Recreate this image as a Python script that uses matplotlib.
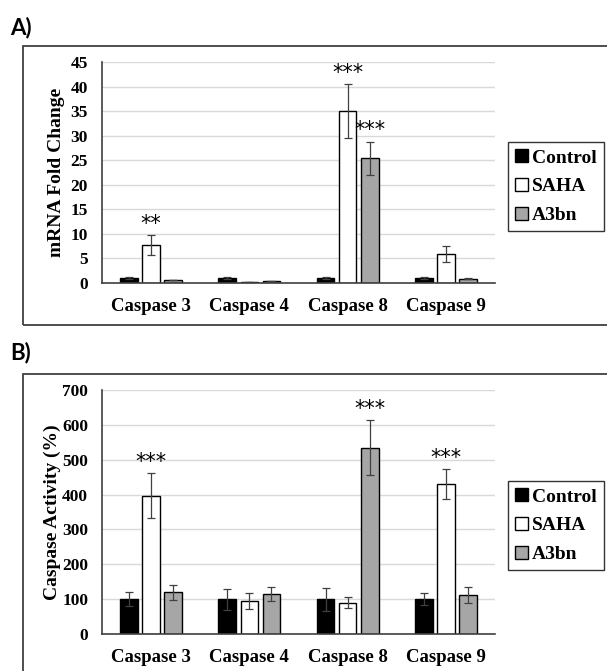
import numpy as np
import matplotlib
matplotlib.use("Agg")
import matplotlib.pyplot as plt
from matplotlib.patches import Rectangle

# ---- data ----
categories = ["Caspase 3", "Caspase 4", "Caspase 8", "Caspase 9"]
groups = ["Control", "SAHA", "A3bn"]

# panel A: mRNA fold change
mrna_control = [1.0, 1.0, 1.0, 1.0]
mrna_control_err = [0.2, 0.2, 0.2, 0.2]
mrna_saha = [7.8, 0.2, 35.0, 5.9]
mrna_saha_err = [2.0, 0.0, 5.5, 1.6]
mrna_a3bn = [0.7, 0.4, 25.4, 0.9]
mrna_a3bn_err = [0.0, 0.0, 3.4, 0.1]
mrna_stars = [["", "**", ""], ["", "", ""], ["", "***", "***"], ["", "", ""]]

# panel B: caspase activity (%)
act_control = [100, 100, 100, 100]
act_control_err = [20, 30, 33, 18]
act_saha = [397, 95, 90, 430]
act_saha_err = [65, 22, 15, 43]
act_a3bn = [120, 116, 535, 112]
act_a3bn_err = [22, 20, 79, 24]
act_stars = [["", "***", ""], ["", "", ""], ["", "", "***"], ["", "***", ""]]

colors = ["#000000", "#ffffff", "#a6a6a6"]
serif = "Liberation Serif"

fig = plt.figure(figsize=(6.07, 6.71), dpi=100)

# panel frames
for y0, h in [(1 - 325 / 671, (325 - 46) / 671), (-0.05, 1 - 374 / 671 + 0.05)]:
    fig.patches.append(Rectangle((23 / 607, y0), 1.0, h, transform=fig.transFigure,
                                 fill=False, edgecolor="#404040", linewidth=1.3))

fig.text(10 / 607, 1 - 28 / 671, "A)", fontsize=16, fontweight="bold", family="Lato",
         va="center", ha="left")
fig.text(10 / 607, 1 - 353 / 671, "B)", fontsize=16, fontweight="bold", family="Lato",
         va="center", ha="left")


def panel(ax, vals, errs, stars, ymax, ystep, ylabel, label_x, leg_top):
    x = np.arange(len(categories))
    w = 0.18
    off = [-0.225, 0.0, 0.225]
    ax.set_axisbelow(True)
    ax.yaxis.grid(True, color="#d9d9d9", linewidth=1.0)
    for i in range(3):
        ax.bar(x + off[i], vals[i], w, yerr=errs[i], color=colors[i], edgecolor="#000000",
               linewidth=1.0, label=groups[i],
               error_kw=dict(ecolor="#404040", elinewidth=0.9, capsize=3, capthick=0.9))
        for j in range(len(categories)):
            if stars[j][i]:
                ax.text(x[j] + off[i], vals[i][j] + errs[i][j] + ymax * 0.005, stars[j][i],
                        ha="center", va="bottom", fontsize=15, family="DejaVu Sans")
    ax.set_xlim(-0.5, len(categories) - 0.5)
    ax.set_ylim(0, ymax)
    ax.set_yticks(np.arange(0, ymax + 1, ystep))
    ax.set_xticks(x)
    ax.set_xticklabels(categories, fontsize=13.5, fontweight="bold", family=serif)
    for t in ax.get_yticklabels():
        t.set_fontsize(12.5)
        t.set_fontweight("bold")
        t.set_family(serif)
    ax.tick_params(axis="both", length=0)
    ax.tick_params(axis="y", pad=10)
    ax.tick_params(axis="x", pad=11)
    for s in ["top", "right"]:
        ax.spines[s].set_visible(False)
    for s in ["left", "bottom"]:
        ax.spines[s].set_color("#404040")
        ax.spines[s].set_linewidth(1.2)
    ax.set_ylabel(ylabel, fontsize=14, fontweight="bold", family=serif)
    ax.yaxis.set_label_coords(label_x, 0.5)
    leg = ax.legend(loc="upper left", bbox_to_anchor=(508 / 607, leg_top),
                    bbox_transform=fig.transFigure, frameon=True, fancybox=False,
                    edgecolor="#000000", prop=dict(family=serif, weight="bold", size=14),
                    handlelength=0.65, handleheight=0.65, handletextpad=0.2,
                    labelspacing=0.58, borderpad=0.38, borderaxespad=0)
    leg.get_frame().set_linewidth(1.0)


axA = fig.add_axes([102 / 607, 1 - 283 / 671, 393 / 607, (283 - 62) / 671])
panel(axA, [mrna_control, mrna_saha, mrna_a3bn],
      [mrna_control_err, mrna_saha_err, mrna_a3bn_err], mrna_stars,
      45, 5, "mRNA Fold Change", -0.094, 1 - 142 / 671)

axB = fig.add_axes([102 / 607, 1 - 634 / 671, 393 / 607, (634 - 390) / 671])
panel(axB, [act_control, act_saha, act_a3bn],
      [act_control_err, act_saha_err, act_a3bn_err], act_stars,
      700, 100, "Caspase Activity (%)", -0.104, 1 - 481 / 671)

fig.savefig("out.png", dpi=100)
